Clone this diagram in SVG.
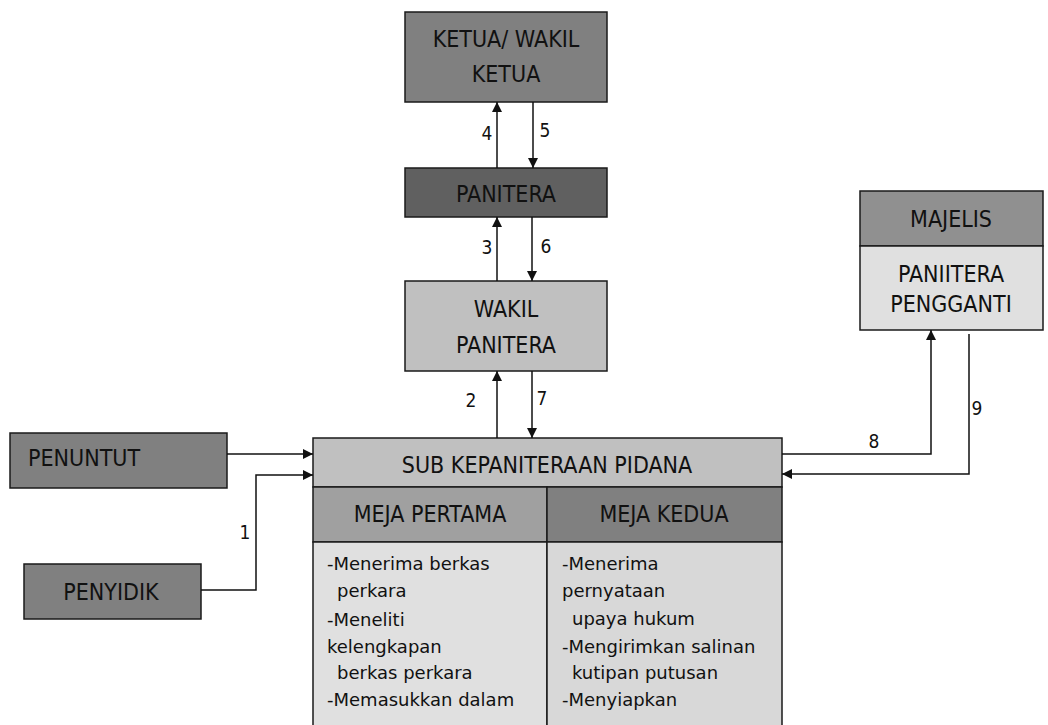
<svg xmlns="http://www.w3.org/2000/svg" width="1048" height="725" viewBox="0 0 1048 725">
<style>
.box{stroke:#1a1a1a;stroke-width:1.5}
.t{font-family:"DejaVu Sans Condensed","DejaVu Sans","Liberation Sans",sans-serif;font-stretch:condensed;font-size:23px;fill:#111;text-anchor:middle}
.b{font-family:"DejaVu Sans","Liberation Sans",sans-serif;font-size:18px;fill:#111}
.n{font-family:"DejaVu Sans Condensed","DejaVu Sans",sans-serif;font-stretch:condensed;font-size:19px;fill:#111;text-anchor:middle}
.c{fill:none;stroke:#111;stroke-width:1.5}
</style>
<defs>
<marker id="ah" viewBox="0 0 10 10" refX="10" refY="5" markerWidth="10" markerHeight="10" markerUnits="userSpaceOnUse" orient="auto">
<path d="M0,0 L10,5 L0,10 z" fill="#111"/>
</marker>
</defs>
<rect width="1048" height="725" fill="#fff"/>
<g id="ketua"><rect class="box" x="405" y="12" width="202" height="90" fill="#808080"/>
<text class="t" x="506" y="47">KETUA/ WAKIL</text><text class="t" x="506" y="82">KETUA</text></g>
<g id="panitera"><rect class="box" x="405" y="168" width="202" height="49" fill="#606060"/>
<text class="t" x="506" y="202">PANITERA</text></g>
<g id="wakil-panitera"><rect class="box" x="405" y="281" width="202" height="90" fill="#c0c0c0"/>
<text class="t" x="506" y="317">WAKIL</text><text class="t" x="506" y="353">PANITERA</text></g>
<g id="sub-kepaniteraan"><rect class="box" x="313" y="438" width="469" height="49" fill="#c0c0c0"/>
<text class="t" x="547" y="473">SUB KEPANITERAAN PIDANA</text></g>
<g id="meja-pertama"><rect class="box" x="313" y="487" width="234" height="55" fill="#a0a0a0"/>
<text class="t" x="430" y="522">MEJA PERTAMA</text>
<rect class="box" x="313" y="542" width="234" height="200" fill="#e0e0e0"/>
<text class="b" x="327" y="570">-Menerima berkas</text>
<text class="b" x="337" y="597">perkara</text>
<text class="b" x="327" y="626">-Meneliti</text>
<text class="b" x="327" y="653">kelengkapan</text>
<text class="b" x="337" y="679">berkas perkara</text>
<text class="b" x="327" y="706">-Memasukkan dalam</text></g>
<g id="meja-kedua"><rect class="box" x="547" y="487" width="235" height="55" fill="#808080"/>
<text class="t" x="664" y="522">MEJA KEDUA</text>
<rect class="box" x="547" y="542" width="235" height="200" fill="#d8d8d8"/>
<text class="b" x="562" y="570">-Menerima</text>
<text class="b" x="562" y="597">pernyataan</text>
<text class="b" x="572" y="625">upaya hukum</text>
<text class="b" x="562" y="653">-Mengirimkan salinan</text>
<text class="b" x="572" y="679">kutipan putusan</text>
<text class="b" x="562" y="706">-Menyiapkan</text></g>
<g id="penuntut"><rect class="box" x="10" y="433" width="217" height="55" fill="#808080"/>
<text class="t" x="28" y="466" style="text-anchor:start">PENUNTUT</text></g>
<g id="penyidik"><rect class="box" x="24" y="564" width="177" height="55" fill="#808080"/>
<text class="t" x="111" y="600">PENYIDIK</text></g>
<g id="majelis"><rect class="box" x="860" y="191" width="183" height="55" fill="#909090"/>
<text class="t" x="951" y="227">MAJELIS</text>
<rect class="box" x="860" y="246" width="183" height="84" fill="#e0e0e0"/>
<text class="t" x="951" y="282">PANIITERA</text><text class="t" x="951" y="312">PENGGANTI</text></g>
<g id="connectors">
<path class="c" d="M497,168 V102" marker-end="url(#ah)"/>
<path class="c" d="M533,102 V168" marker-end="url(#ah)"/>
<path class="c" d="M497,281 V217" marker-end="url(#ah)"/>
<path class="c" d="M532,217 V281" marker-end="url(#ah)"/>
<path class="c" d="M497,438 V371" marker-end="url(#ah)"/>
<path class="c" d="M532,371 V438" marker-end="url(#ah)"/>
<path class="c" d="M227,454 H313" marker-end="url(#ah)"/>
<path class="c" d="M201,590 H256 V475 H313" marker-end="url(#ah)"/>
<path class="c" d="M782,454 H931 V330" marker-end="url(#ah)"/>
<path class="c" d="M969,334 V474 H782" marker-end="url(#ah)"/>
<text class="n" x="487" y="140">4</text>
<text class="n" x="545" y="137">5</text>
<text class="n" x="487" y="254">3</text>
<text class="n" x="546" y="253">6</text>
<text class="n" x="471" y="407">2</text>
<text class="n" x="542" y="405">7</text>
<text class="n" x="245" y="539">1</text>
<text class="n" x="874" y="448">8</text>
<text class="n" x="977" y="415">9</text>
</g>
</svg>
